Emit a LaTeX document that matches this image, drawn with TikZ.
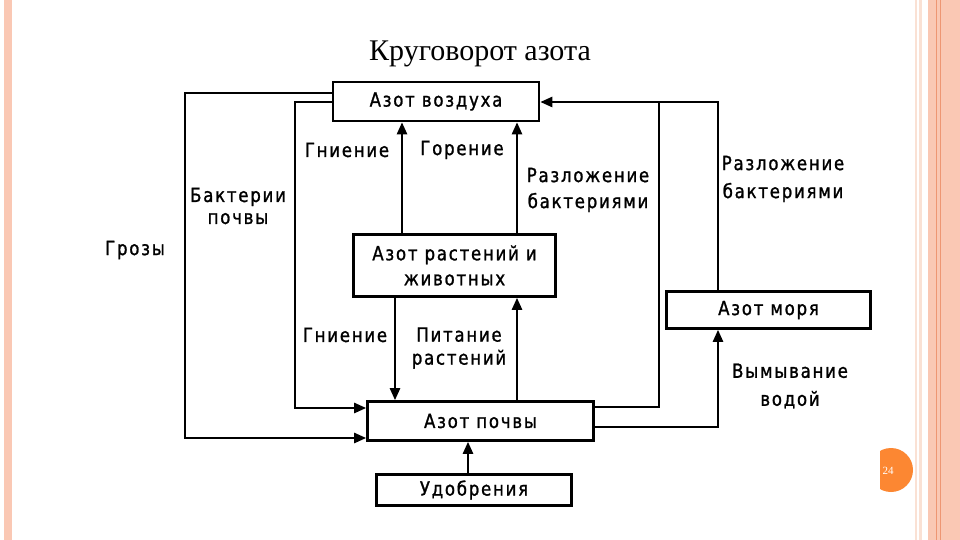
\documentclass[tikz,border=0pt]{standalone}
\usepackage{fontspec}
\setmainfont{Liberation Serif}
\newfontfamily\labfont[LetterSpace=9,FakeStretch=0.85,FakeBold=1.2]{DejaVu Sans}
\usetikzlibrary{arrows.meta}
\definecolor{salmon}{RGB}{250,200,180}
\definecolor{lightstripe}{RGB}{250,225,212}
\definecolor{darkstripe}{RGB}{238,150,115}
\definecolor{pageorange}{RGB}{252,135,50}
\begin{document}
\begin{tikzpicture}[x=1pt,y=-1pt,
  labtext/.style={font=\labfont\fontsize{19.5}{25}\selectfont},
  box/.style={draw,line width=2.6pt,inner sep=0pt,labtext,align=center},
  lab/.style={inner sep=0pt,labtext,align=center},
  conn/.style={line width=2.4pt},
  arr/.style={conn,-{Triangle[length=12pt,width=10pt]}}]
\useasboundingbox (0,0) rectangle (960,540);
\fill[white] (0,0) rectangle (960,540);
% slide decoration
\fill[salmon] (4,0) rectangle (12,540);
\fill[lightstripe] (915,0) rectangle (917,540);
\fill[lightstripe] (919,0) rectangle (922,540);
\fill[salmon] (928,0) rectangle (960,540);
\draw[darkstripe,line width=1pt] (936,0) -- (936,540);
\draw[darkstripe,line width=0.8pt] (940,0) -- (940,540);
\fill[pageorange] (891,470) circle[radius=22pt];
\fill[white] (860,440) rectangle (880,500);
\node[text=white,font=\fontsize{11}{12}\selectfont] (pg) at (888,471) {24};
% title
\node[font=\fontsize{30}{34}\selectfont,anchor=base] (title) at (480,61) {Круговорот азота};
% boxes
\node[box,minimum width=206pt,minimum height=39pt] (air) at (436,101.5) {Азот воздуха};
\node[box,minimum width=202pt,minimum height=62pt] (plants) at (454.5,265.5) {Азот растений и\\животных};
\node[box,minimum width=204pt,minimum height=37pt] (sea) at (768.5,310) {Азот моря};
\node[box,minimum width=226pt,minimum height=39pt] (soil) at (480.5,421) {Азот почвы};
\node[box,minimum width=195pt,minimum height=31pt] (fert) at (474,490) {Удобрения};
% helper coordinates
\coordinate (xg) at (185,0);
\coordinate (xb) at (295,0);
\coordinate (xa) at (402,0);
\coordinate (xc) at (517,0);
\coordinate (xd) at (395,0);
\coordinate (xe) at (659,0);
\coordinate (xf) at (718,0);
\coordinate (xh) at (468,0);
\coordinate (ya) at (0,93);
\coordinate (yb) at (0,102);
\coordinate (yc) at (0,408);
\coordinate (yd) at (0,438);
\coordinate (ye) at (0,407);
\coordinate (yf) at (0,427);
% connectors
\draw[arr] (air.west |- ya) -- (xg |- ya) -- (xg |- yd) -- (soil.west |- yd);
\draw[arr] (air.west |- yb) -- (xb |- yb) -- (xb |- yc) -- (soil.west |- yc);
\draw[arr] (plants.north -| xa) -- (air.south -| xa);
\draw[arr] (plants.north -| xc) -- (air.south -| xc);
\draw[arr] (plants.south -| xd) -- (soil.north -| xd);
\draw[arr] (soil.north -| xc) -- (plants.south -| xc);
\draw[conn] (soil.east |- ye) -- (xe |- ye) -- (xe |- yb);
\draw[arr] (sea.north -| xf) -- (xf |- yb) -- (air.east |- yb);
\draw[arr] (soil.east |- yf) -- (xf |- yf) -- (sea.south -| xf);
\draw[arr] (fert.north -| xh) -- (soil.south -| xh);
% labels
\node[lab] (lgroz) at (135,250) {Грозы};
\node[lab] (lbakt) at (238,206) {Бактерии\\[-3pt]почвы};
\node[lab] (lgn1) at (347,150) {Гниение};
\node[lab] (lgor) at (462,150) {Горение};
\node[lab] (lraz1) at (588,190) {Разложение\\[1pt]бактериями};
\node[lab] (lraz2) at (783,179) {Разложение\\[3pt]бактериями};
\node[lab] (lgn2) at (345,335) {Гниение};
\node[lab] (lpit) at (459,348) {Питание\\[-2pt]растений};
\node[lab] (lvym) at (790,386) {Вымывание\\[3pt]водой};
\end{tikzpicture}
\end{document}
